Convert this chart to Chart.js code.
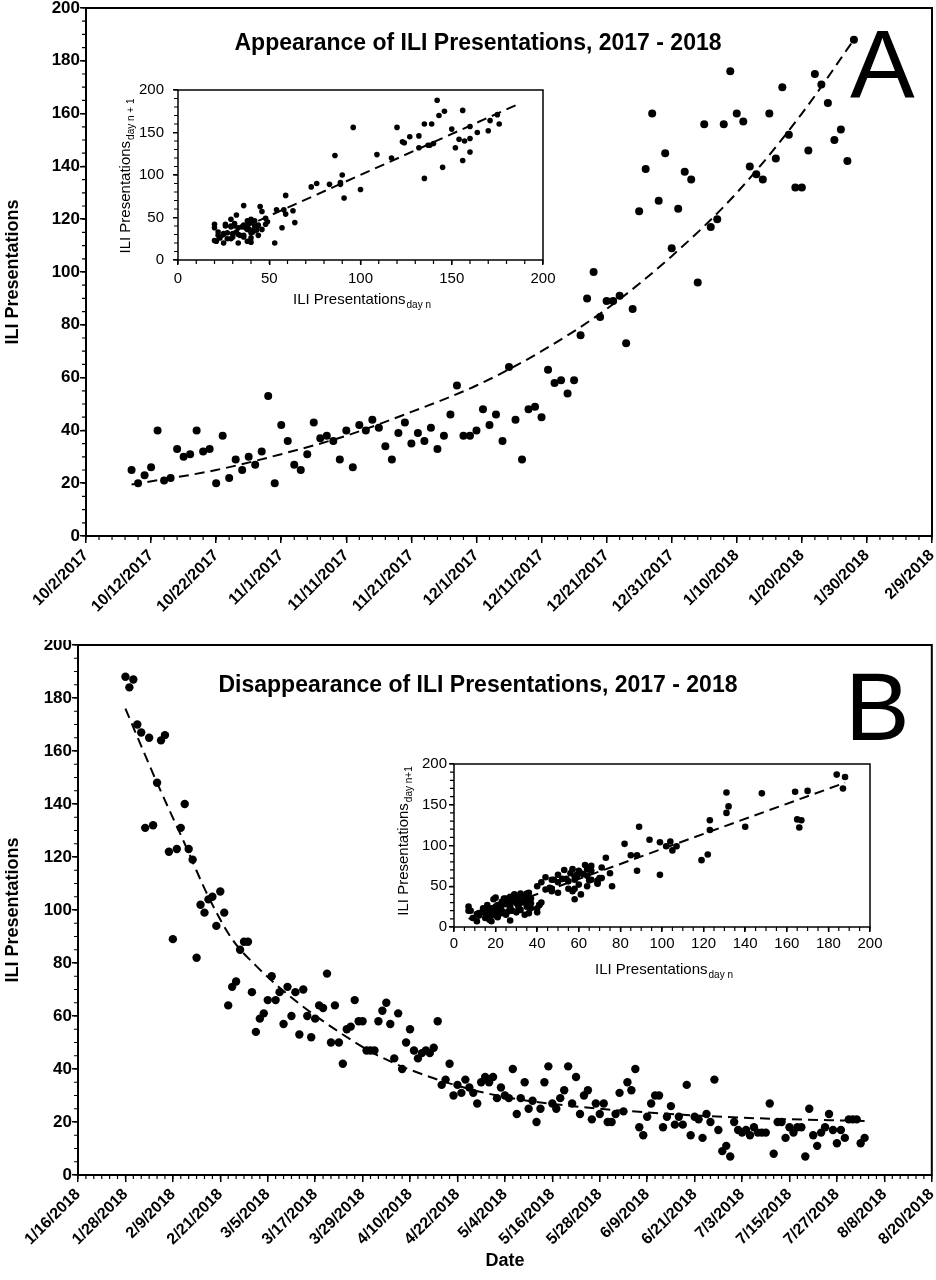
<!DOCTYPE html>
<html>
<head>
<meta charset="utf-8">
<script src="https://cdn.jsdelivr.net/npm/chart.js@4.4.1/dist/chart.umd.min.js"></script>
<style>
body { margin: 0; background: #fff; width: 936px; height: 1280px; position: relative; overflow: hidden; font-family: "Liberation Sans", Arial, sans-serif; }
canvas { position: absolute; }
.title { position: absolute; left: 0; width: 956px; text-align: center; font-weight: bold; font-size: 23px; line-height: 1; }
.panel { position: absolute; font-size: 97px; line-height: 1; }
</style>
</head>
<body>
<canvas id="mainA" width="936" height="640" style="left:0;top:0"></canvas>
<canvas id="mainB" width="936" height="640" style="left:0;top:640px"></canvas>
<canvas id="insetA" width="470" height="245" style="left:100px;top:70px"></canvas>
<canvas id="insetB" width="520" height="245" style="left:380px;top:745px"></canvas>
<div class="title" style="top:31px">Appearance of ILI Presentations, 2017 - 2018</div>
<div class="title" style="top:673px">Disappearance of ILI Presentations, 2017 - 2018</div>
<div class="panel" style="left:850px;top:15px">A</div>
<div class="panel" style="left:845px;top:658px">B</div>
<script>
// panel A: daily counts from 10/9/2017 (day 7 after 10/2/2017)
const appearanceFirstDay = 7;
const appearanceValues = [
    25, 20, 23, 26, 40, 21, 22, 33, 30, 31,
    40, 32, 33, 20, 38, 22, 29, 25, 30, 27,
    32, 53, 20, 42, 36, 27, 25, 31, 43, 37,
    38, 36, 29, 40, 26, 42, 40, 44, 41, 34,
    29, 39, 43, 35, 39, 36, 41, 33, 38, 46,
    57, 38, 38, 40, 48, 42, 46, 36, 64, 44,
    29, 48, 49, 45, 63, 58, 59, 54, 59, 76,
    90, 100, 83, 89, 89, 91, 73, 86, 123, 139,
    160, 127, 145, 109, 124, 138, 135, 96, 156, 117,
    120, 156, 176, 160, 157, 140, 137, 135, 160, 143,
    170, 152, 132, 132, 146, 175, 171, 164, 150, 154,
    142, 188
];
// dashed trend (day, value)
const appearanceTrendDays = [7, 20, 30, 40, 50, 60, 70, 80, 90, 100, 110, 118];
const appearanceTrendValues = [19.5, 25, 31, 38, 47, 57, 70, 86, 106, 130, 160, 188];

// panel B: daily counts from 1/28/2018 (day 12 after 1/16/2018)
const disappearanceFirstDay = 12;
const disappearanceValues = [
    188, 184, 187, 170, 167, 131, 165, 132, 148, 164,
    166, 122, 89, 123, 131, 140, 123, 119, 82, 102,
    99, 104, 105, 94, 107, 99, 64, 71, 73, 85,
    88, 88, 69, 54, 59, 61, 66, 75, 66, 69,
    57, 71, 60, 69, 53, 70, 60, 52, 59, 64,
    63, 76, 50, 64, 50, 42, 55, 56, 66, 58,
    58, 47, 47, 47, 58, 62, 65, 57, 44, 61,
    40, 50, 55, 47, 44, 46, 47, 46, 48, 58,
    34, 36, 42, 30, 34, 31, 36, 33, 31, 27,
    35, 37, 35, 37, 29, 33, 30, 29, 40, 23,
    29, 35, 25, 28, 20, 25, 35, 41, 27, 25,
    29, 32, 41, 27, 37, 23, 30, 32, 21, 27,
    23, 27, 20, 20, 23, 31, 24, 35, 32, 40,
    18, 15, 22, 27, 30, 30, 18, 22, 26, 19,
    22, 19, 34, 15, 22, 21, 14, 23, 20, 36,
    17, 9, 11, 7, 20, 17, 16, 17, 15, 18,
    16, 16, 16, 27, 8, 20, 20, 14, 18, 16,
    18, 18, 7, 25, 15, 11, 16, 18, 23, 17,
    12, 17, 14, 21, 21, 21, 12, 14
];
const disappearanceTrendDays = [12, 20, 27, 33, 39, 45, 54, 66, 76, 91, 106, 122, 147, 172, 199];
const disappearanceTrendValues = [176, 148, 125, 105, 89, 79, 67, 54, 45, 36, 30, 26.5, 23.3, 21.4, 20.4];

// inset trend lines (end points)
const lagATrendX = [20, 185];
const lagATrendY = [23, 182];
const lagBTrendX = [7, 188];
const lagBTrendY = [10, 177];

// axis ticks
const axisA = { start: [2017, 9, 2], max: 130, step: 10 };
const axisB = { start: [2018, 0, 16], max: 216, step: 12 };
const countTicks = { max: 200, step: 20 };

const FONT = '"Liberation Sans", Arial, sans-serif';
Chart.defaults.font.family = FONT;
Chart.defaults.color = '#000';

function dateLabel(start, v) {
    const d = new Date(Date.UTC(start[0], start[1], start[2]) + v * 86400000);
    return (d.getUTCMonth() + 1) + '/' + d.getUTCDate() + '/' + d.getUTCFullYear();
}

function titleWithSub(ctx, t, rotate) {
    ctx.save();
    ctx.translate(t.x, t.y);
    if (rotate) ctx.rotate(-Math.PI / 2);
    ctx.fillStyle = '#000';
    ctx.textAlign = 'left';
    ctx.textBaseline = 'alphabetic';
    ctx.font = '15px ' + FONT;
    const w1 = ctx.measureText(t.main).width;
    ctx.font = '10px ' + FONT;
    const w2 = ctx.measureText(t.sub).width;
    const sx = -(w1 + w2 + 1) / 2;
    ctx.font = '15px ' + FONT;
    ctx.fillText(t.main, sx, 0);
    ctx.font = '10px ' + FONT;
    ctx.fillText(t.sub, sx + w1 + 1, 4);
    ctx.restore();
}

// minor ticks, plot frame and subscript titles
const framePlugin = {
    id: 'frame',
    afterDraw(chart, args, o) {
        const { ctx, chartArea: a, scales: { x, y } } = chart;
        ctx.save();
        ctx.strokeStyle = '#000';
        ctx.lineWidth = 1.2;
        ctx.beginPath();
        for (let v = x.min; v <= x.max + 1e-6; v += o.xMinor) {
            const px = x.getPixelForValue(v);
            ctx.moveTo(px, a.bottom); ctx.lineTo(px, a.bottom + o.len);
        }
        for (let v = y.min; v <= y.max + 1e-6; v += o.yMinor) {
            const py = y.getPixelForValue(v);
            ctx.moveTo(a.left, py); ctx.lineTo(a.left - o.len, py);
        }
        ctx.stroke();
        ctx.lineWidth = o.lw;
        ctx.strokeRect(a.left, a.top, a.right - a.left, a.bottom - a.top);
        ctx.restore();
        if (o.xTitle) titleWithSub(ctx, o.xTitle, false);
        if (o.yTitle) titleWithSub(ctx, o.yTitle, true);
    }
};

function fixBox(w, h) {
    return s => {
        if (w !== null) s.width = w;
        if (h !== null) s.height = h;
        s.paddingLeft = 0; s.paddingRight = 0; s.paddingTop = 0; s.paddingBottom = 0;
    };
}

function tickGrid(len) {
    return { drawOnChartArea: false, color: '#000', lineWidth: 1.5, tickLength: len };
}

function mainChart(id, cfg) {
    return new Chart(document.getElementById(id), {
        type: 'scatter',
        data: {
            datasets: [
                { data: cfg.values.map((v, i) => ({ x: cfg.firstDay + i, y: v })), pointRadius: cfg.radius, pointBackgroundColor: '#000', pointBorderWidth: 0 },
                { data: cfg.trendDays.map((d, i) => ({ x: d, y: cfg.trendValues[i] })), showLine: true, cubicInterpolationMode: 'monotone', borderColor: '#000', borderWidth: 2, borderDash: [10, 6], pointRadius: 0 }
            ]
        },
        options: {
            responsive: false, animation: false,
            layout: { padding: cfg.padding },
            plugins: { legend: { display: false }, tooltip: { enabled: false }, frame: { xMinor: 2, yMinor: 5, len: 4, lw: 2 } },
            scales: {
                x: {
                    type: 'linear', min: 0, max: cfg.axis.max,
                    border: { display: false }, grid: tickGrid(7),
                    ticks: { stepSize: cfg.axis.step, autoSkip: false, maxRotation: 45, minRotation: 45, padding: 3, font: { size: 16, weight: 'bold' }, callback: v => dateLabel(cfg.axis.start, v) },
                    title: { display: !!cfg.xTitle, text: cfg.xTitle || '', font: { size: 18, weight: 'bold' }, padding: { top: 0, bottom: 8 } },
                    afterFit: fixBox(null, cfg.xHeight)
                },
                y: {
                    min: 0, max: countTicks.max,
                    border: { display: false }, grid: tickGrid(6),
                    ticks: { stepSize: countTicks.step, padding: 0, font: { size: 17, weight: 'bold' } },
                    title: { display: true, text: 'ILI Presentations', font: { size: 18, weight: 'bold' }, padding: { top: 2, bottom: 0 } },
                    afterFit: fixBox(cfg.yWidth, null)
                }
            }
        },
        plugins: [framePlugin]
    });
}

function insetChart(id, cfg) {
    const pairs = cfg.values.slice(0, -1).map((v, i) => ({ x: v, y: cfg.values[i + 1] }));
    return new Chart(document.getElementById(id), {
        type: 'scatter',
        data: {
            datasets: [
                { data: pairs, pointRadius: cfg.radius, pointBackgroundColor: '#000', pointBorderWidth: 0 },
                { data: cfg.trendX.map((v, i) => ({ x: v, y: cfg.trendY[i] })), showLine: true, borderColor: '#000', borderWidth: 2, borderDash: [10, 6], pointRadius: 0 }
            ]
        },
        options: {
            responsive: false, animation: false,
            layout: { padding: cfg.padding },
            plugins: {
                legend: { display: false }, tooltip: { enabled: false },
                frame: { xMinor: cfg.xMinor, yMinor: 10, len: 4, lw: 1.5, xTitle: cfg.xTitle, yTitle: cfg.yTitle }
            },
            scales: {
                x: {
                    type: 'linear', min: 0, max: 200,
                    border: { display: false }, grid: tickGrid(5),
                    ticks: { stepSize: cfg.xStep, padding: cfg.xPad, maxRotation: 0, font: { size: 15 } },
                    afterFit: fixBox(null, cfg.xHeight)
                },
                y: {
                    min: 0, max: 200,
                    border: { display: false }, grid: tickGrid(5),
                    ticks: { stepSize: 50, padding: cfg.yPad, font: { size: 15 } },
                    afterFit: fixBox(cfg.yWidth, null)
                }
            }
        },
        plugins: [framePlugin]
    });
}

mainChart('mainA', {
    values: appearanceValues, firstDay: appearanceFirstDay,
    trendDays: appearanceTrendDays, trendValues: appearanceTrendValues,
    axis: axisA, radius: 4, padding: { left: 0, right: 3, top: 8, bottom: 0 },
    yWidth: 86, xHeight: 104
});

mainChart('mainB', {
    values: disappearanceValues, firstDay: disappearanceFirstDay,
    trendDays: disappearanceTrendDays, trendValues: disappearanceTrendValues,
    axis: axisB, radius: 4.2, padding: { left: 0, right: 2, top: 5, bottom: 0 },
    yWidth: 78, xHeight: 105, xTitle: 'Date'
});

insetChart('insetA', {
    values: appearanceValues, trendX: lagATrendX, trendY: lagATrendY,
    radius: 2.8, padding: { left: 0, right: 27, top: 20, bottom: 0 },
    yWidth: 78, xHeight: 55, xStep: 50, xMinor: 10, xPad: 5, yPad: 9,
    xTitle: { main: 'ILI Presentations', sub: 'day n', x: 262, y: 234 },
    yTitle: { main: 'ILI Presentations', sub: 'day n + 1', x: 30, y: 106 }
});

insetChart('insetB', {
    values: disappearanceValues, trendX: lagBTrendX, trendY: lagBTrendY,
    radius: 3.3, padding: { left: 0, right: 30, top: 19, bottom: 0 },
    yWidth: 74, xHeight: 63, xStep: 20, xMinor: 5, xPad: 3, yPad: 2,
    xTitle: { main: 'ILI Presentations', sub: 'day n', x: 284, y: 229 },
    yTitle: { main: 'ILI Presentations', sub: 'day n+1', x: 28, y: 96 }
});
</script>
</body>
</html>
